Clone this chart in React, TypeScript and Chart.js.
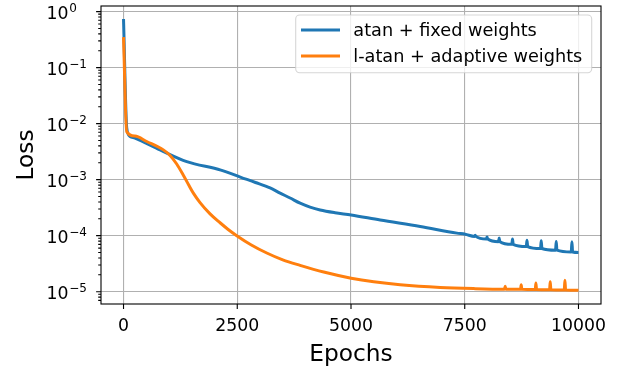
import React, { useEffect, useRef } from "react";
import { Chart, registerables } from "chart.js";

Chart.register(...registerables);

// Training loss per epoch, two runs
const blueEpochs = [
  0, 70, 143, 253, 803, 1390, 2140, 2580, 2900, 3222, 3442, 3662, 3882, 4100,
  4322, 4650, 5004, 5642, 6521, 7327, 7510,
  7715, 7730, 7745, 7975, 7990, 8005, 8242, 8257, 8272, 8535, 8550, 8565,
  8853, 8868, 8883, 9166, 9181, 9196, 9496, 9511, 9526, 9841, 9856, 9871,
  10000,
];
const blueLoss = [
  0.74, 8.5e-3, 5.9e-3, 5.5e-3, 3.4e-3, 2.1e-3, 1.48e-3, 1.1e-3, 8.9e-4,
  7.1e-4, 5.75e-4, 4.7e-4, 3.8e-4, 3.24e-4, 2.88e-4, 2.57e-4, 2.34e-4,
  1.9e-4, 1.46e-4, 1.11e-4, 1.06e-4,
  9.7e-5, 1.02e-4, 9.7e-5, 8.7e-5, 9.5e-5, 8.7e-5, 7.8e-5, 9.1e-5, 7.8e-5,
  7.0e-5, 8.7e-5, 7.0e-5, 6.4e-5, 8.3e-5, 6.4e-5, 5.9e-5, 8.1e-5, 5.9e-5,
  5.5e-5, 7.9e-5, 5.5e-5, 5.1e-5, 7.8e-5, 5.1e-5,
  5.0e-5,
];

const orangeEpochs = [
  0, 70, 250, 510, 876, 1023, 1169, 1315, 1430, 1535, 1682, 1902, 2122, 2300,
  2489, 2800, 3149, 3500, 3881, 4400, 5003, 5500, 6080, 6960, 7700,
  8374, 8389, 8404, 8726, 8741, 8756, 9049, 9064, 9079, 9364, 9379, 9394,
  9687, 9702, 9717,
  10000,
];
const orangeLoss = [
  0.35, 7.2e-3, 6.0e-3, 4.8e-3, 3.4e-3, 2.7e-3, 1.9e-3, 1.2e-3, 8.1e-4,
  5.75e-4, 3.9e-4, 2.45e-4, 1.7e-4, 1.29e-4, 1.0e-4, 6.9e-5, 4.9e-5,
  3.7e-5, 2.95e-5, 2.24e-5, 1.74e-5, 1.5e-5, 1.33e-5, 1.19e-5, 1.135e-5,
  1.11e-5, 1.25e-5, 1.11e-5, 1.1e-5, 1.33e-5, 1.1e-5, 1.09e-5, 1.43e-5,
  1.09e-5, 1.08e-5, 1.5e-5, 1.08e-5, 1.07e-5, 1.6e-5, 1.07e-5,
  1.06e-5,
];

const seriesLabels = ["atan + fixed weights", "l-atan + adaptive weights"];
const seriesColors = ["#1f77b4", "#ff7f0e"];
const xTickValues = [0, 2500, 5000, 7500, 10000];
const yTickExponents = [-5, -4, -3, -2, -1, 0];
const xTitle = "Epochs";
const yTitle = "Loss";

const FONT = '"DejaVu Sans", "Liberation Sans", sans-serif';
const LINE_W = 3;

const axesDecor = {
  id: "axesDecor",
  afterDraw(chart: any) {
    const ctx = chart.ctx as CanvasRenderingContext2D;
    const ca = chart.chartArea;
    const xs = chart.scales.x;
    const ys = chart.scales.y;
    ctx.save();

    // spines
    ctx.strokeStyle = "#000";
    ctx.lineWidth = 1.1;
    ctx.strokeRect(ca.left, ca.top, ca.right - ca.left, ca.bottom - ca.top);

    // y ticks: major decades + minor 2..9
    ctx.beginPath();
    const yMin = ys.min, yMax = ys.max;
    for (let e = -7; e <= 1; e++) {
      for (let m = 1; m <= 9; m++) {
        const v = m * Math.pow(10, e);
        if (v < yMin || v > yMax) continue;
        const py = ys.getPixelForValue(v);
        const len = m === 1 ? 4.9 : 2.8;
        ctx.moveTo(ca.left, py);
        ctx.lineTo(ca.left - len, py);
      }
    }
    // x ticks
    for (const v of xTickValues) {
      const px = xs.getPixelForValue(v);
      ctx.moveTo(px, ca.bottom);
      ctx.lineTo(px, ca.bottom + 4.9);
    }
    ctx.lineWidth = 1.1;
    ctx.stroke();

    // x tick labels
    ctx.fillStyle = "#000";
    ctx.font = `17.3px ${FONT}`;
    ctx.textAlign = "center";
    ctx.textBaseline = "alphabetic";
    for (const v of xTickValues) {
      ctx.fillText(String(v), xs.getPixelForValue(v), ca.bottom + 26.5);
    }

    // y tick labels as 10^n
    for (const e of yTickExponents) {
      const py = ys.getPixelForValue(Math.pow(10, e));
      ctx.font = `17.3px ${FONT}`;
      ctx.textAlign = "right";
      ctx.fillText("10", ca.left - 32.5, py + 7);
      ctx.font = `12px ${FONT}`;
      ctx.textAlign = "left";
      ctx.fillText(e === 0 ? "0" : "\u2212" + String(-e), ca.left - 31.8, py + 0.3);
    }

    // axis titles
    ctx.font = `23.3px ${FONT}`;
    ctx.textAlign = "center";
    ctx.fillText(xTitle, (ca.left + ca.right) / 2, 361);
    ctx.save();
    ctx.translate(33.3, (ca.top + ca.bottom) / 2);
    ctx.rotate(-Math.PI / 2);
    ctx.fillText(yTitle, 0, 0);
    ctx.restore();

    // legend
    const bx = 295.7, by = 15, bw = 296, bh = 57.7, r = 4;
    ctx.beginPath();
    ctx.moveTo(bx + r, by);
    ctx.arcTo(bx + bw, by, bx + bw, by + bh, r);
    ctx.arcTo(bx + bw, by + bh, bx, by + bh, r);
    ctx.arcTo(bx, by + bh, bx, by, r);
    ctx.arcTo(bx, by, bx + bw, by, r);
    ctx.closePath();
    ctx.fillStyle = "rgba(255,255,255,0.8)";
    ctx.fill();
    ctx.strokeStyle = "rgba(204,204,204,0.8)";
    ctx.lineWidth = 1.1;
    ctx.stroke();

    const rowsY = [30, 56];
    ctx.font = `17.7px ${FONT}`;
    ctx.textAlign = "left";
    seriesLabels.forEach((label, i) => {
      ctx.beginPath();
      ctx.moveTo(301, rowsY[i]);
      ctx.lineTo(340, rowsY[i]);
      ctx.strokeStyle = seriesColors[i];
      ctx.lineWidth = LINE_W;
      ctx.stroke();
      ctx.fillStyle = "#000";
      ctx.fillText(label, 353.3, rowsY[i] + 6.3);
    });

    ctx.restore();
  },
};

export default function App() {
  const canvasRef = useRef<HTMLCanvasElement | null>(null);

  useEffect(() => {
    const canvas = canvasRef.current;
    if (!canvas) return;
    const toPoints = (xs: number[], ys: number[]) =>
      xs.map((x, i) => ({ x, y: ys[i] }));

    const chart = new Chart(canvas, {
      type: "line",
      data: {
        datasets: [
          {
            label: seriesLabels[0],
            data: toPoints(blueEpochs, blueLoss),
            borderColor: seriesColors[0],
            borderWidth: LINE_W,
            pointRadius: 0,
            fill: false,
            cubicInterpolationMode: "monotone",
            borderJoinStyle: "round",
            order: 2,
          },
          {
            label: seriesLabels[1],
            data: toPoints(orangeEpochs, orangeLoss),
            borderColor: seriesColors[1],
            borderWidth: LINE_W,
            pointRadius: 0,
            fill: false,
            cubicInterpolationMode: "monotone",
            borderJoinStyle: "round",
            order: 1,
          },
        ],
      },
      options: {
        animation: false,
        responsive: false,
        devicePixelRatio: 1,
        events: [],
        layout: { padding: { left: 0, top: 6, right: 25, bottom: 0 } },
        plugins: {
          legend: { display: false },
          tooltip: { enabled: false },
        },
        scales: {
          x: {
            type: "linear",
            min: -495,
            max: 10495,
            afterBuildTicks: (s: any) => {
              s.ticks = xTickValues.map((v) => ({ value: v }));
            },
            ticks: { display: false },
            grid: { color: "#b0b0b0", lineWidth: 1.1, drawTicks: false },
            border: { display: false },
            afterFit: (s: any) => {
              s.height = 70;
            },
          },
          y: {
            type: "logarithmic",
            min: Math.pow(10, -5.22),
            max: Math.pow(10, 0.1),
            afterBuildTicks: (s: any) => {
              s.ticks = yTickExponents.map((e) => ({ value: Math.pow(10, e) }));
            },
            ticks: { display: false },
            grid: { color: "#b0b0b0", lineWidth: 1.1, drawTicks: false },
            border: { display: false },
            afterFit: (s: any) => {
              s.width = 101;
            },
          },
        },
      },
      plugins: [axesDecor],
    });

    return () => chart.destroy();
  }, []);

  return (
    <div
      style={{
        position: "fixed",
        left: 0,
        top: 0,
        width: 626,
        height: 374,
        background: "#fff",
      }}
    >
      <canvas
        ref={canvasRef}
        width={626}
        height={374}
        style={{ display: "block", width: 626, height: 374 }}
      />
    </div>
  );
}
